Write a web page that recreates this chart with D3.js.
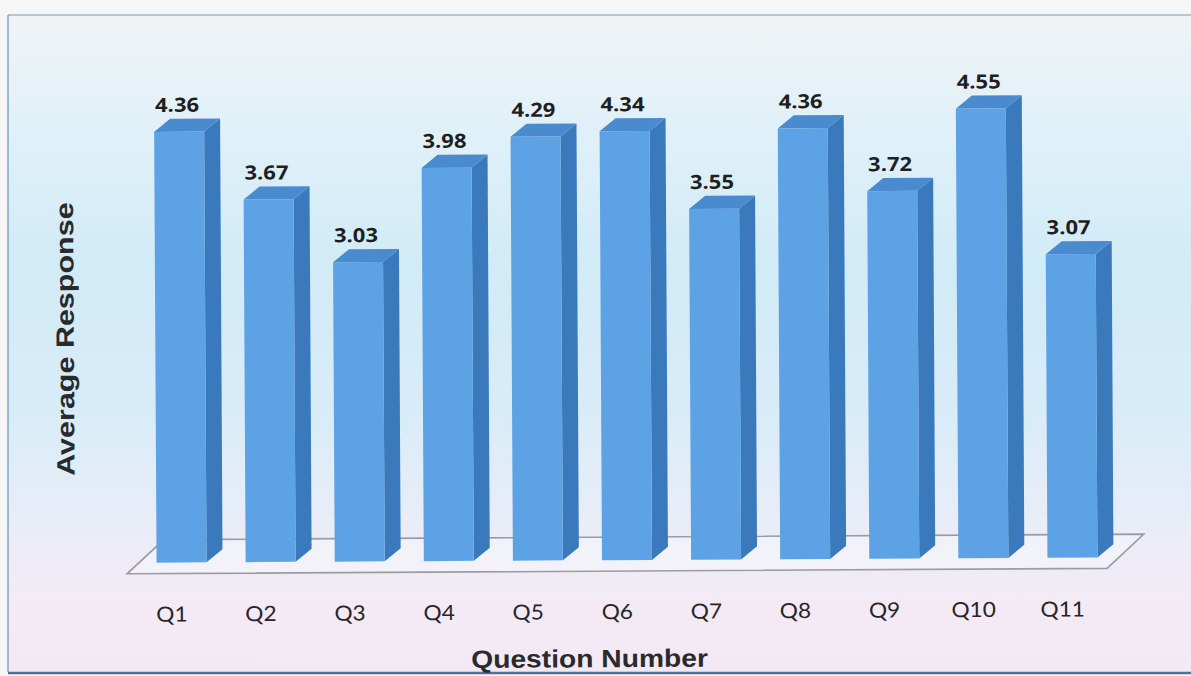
<!DOCTYPE html>
<html>
<head>
<meta charset="utf-8">
<script src="https://cdn.jsdelivr.net/npm/d3@7"></script>
<style>
  html, body { margin: 0; padding: 0; background: #f6f6f6; }
  svg { display: block; }
</style>
</head>
<body>
<div id="chart"></div>
<script>
const W = 1191;
const H = 676;

// data
const questions = ["Q1", "Q2", "Q3", "Q4", "Q5", "Q6", "Q7", "Q8", "Q9", "Q10", "Q11"];
const responses = [4.36, 3.67, 3.03, 3.98, 4.29, 4.34, 3.55, 4.36, 3.72, 4.55, 3.07];
const yDomain = [0, 5];

const xTitle = "Question Number";
const yTitle = "Average Response";

// 3d look
const floorDepth = [37, -34];   // floor back edge offset
const barShift = [10, -11];     // bar front sits a bit into the floor
const barDepth = [16, -13];     // bar depth offset
const barW = 50;

const svg = d3.select("#chart").append("svg").attr("width", W).attr("height", H);

const defs = svg.append("defs");
const bg = defs.append("linearGradient").attr("id", "bg").attr("x1", 0).attr("y1", 0).attr("x2", 0).attr("y2", 1);
[["0%", "#f0f3f5"], ["15%", "#e2f1f8"], ["38%", "#d1ebf7"], ["60%", "#d8ecf8"], ["78%", "#e9edf7"], ["90%", "#f4eaf5"], ["100%", "#f3e9f4"]]
  .forEach(s => bg.append("stop").attr("offset", s[0]).attr("stop-color", s[1]));

// frame
svg.append("rect").attr("x", 8).attr("y", 15).attr("width", W).attr("height", 657).attr("fill", "url(#bg)");
svg.append("line").attr("x1", 8).attr("x2", W).attr("y1", 15).attr("y2", 15).attr("stroke", "#9db6c9").attr("stroke-width", 1.5);
svg.append("line").attr("x1", 8).attr("x2", 8).attr("y1", 15).attr("y2", 672).attr("stroke", "#7ea6c6").attr("stroke-width", 1.5);
svg.append("line").attr("x1", 8).attr("x2", W).attr("y1", 673).attr("y2", 673).attr("stroke", "#4d7198").attr("stroke-width", 2.5);

// the scan is turned a touch
const g = svg.append("g").attr("transform", "rotate(-0.32, 630, 560)");

const x = d3.scaleBand().domain(questions).range([127, 1107]).padding(0);
const y = d3.scaleLinear().domain(yDomain).range([571 + barShift[1], 66]);

const floorY = 571;
const fx0 = x.range()[0], fx1 = x.range()[1];

// floor
g.append("path")
  .attr("d", `M${fx0},${floorY} L${fx1},${floorY} L${fx1 + floorDepth[0]},${floorY + floorDepth[1]} L${fx0 + floorDepth[0]},${floorY + floorDepth[1]} Z`)
  .attr("fill", "rgba(255,255,255,0.3)")
  .attr("stroke", "#9b9ba3")
  .attr("stroke-width", 1.6);

const data = questions.map((q, i) => ({ q, v: responses[i] }));

const bars = g.selectAll("g.bar").data(data).enter().append("g").attr("class", "bar");

const left = d => x(d.q) + x.bandwidth() / 2 + barShift[0] - barW / 2;
const right = d => left(d) + barW;
const bottom = y(0);
const dx = barDepth[0], dy = barDepth[1];

// side face
bars.append("path")
  .attr("d", d => `M${right(d)},${y(d.v)} L${right(d) + dx},${y(d.v) + dy} L${right(d) + dx},${bottom + dy} L${right(d)},${bottom} Z`)
  .attr("fill", "#3a79bc");

// top face
bars.append("path")
  .attr("d", d => `M${left(d)},${y(d.v)} L${left(d) + dx},${y(d.v) + dy} L${right(d) + dx},${y(d.v) + dy} L${right(d)},${y(d.v)} Z`)
  .attr("fill", "#4a8bd0");

// front face
bars.append("rect")
  .attr("x", d => left(d))
  .attr("y", d => y(d.v))
  .attr("width", barW)
  .attr("height", d => bottom - y(d.v))
  .attr("fill", "#5da2e4");

// value labels
bars.append("text")
  .attr("transform", d => `translate(${left(d) + barW / 2 - 2},${y(d.v) + dy - 7}) scale(1.13,1)`)
  .attr("text-anchor", "middle")
  .style("font-family", "'Open Sans', Lato, sans-serif")
  .style("font-weight", "bold")
  .style("font-size", "19.5px")
  .style("fill", "#1f1f1f")
  .text(d => d.v.toFixed(2));

// category labels
g.selectAll("text.cat").data(questions).enter().append("text")
  .attr("class", "cat")
  .attr("transform", d => `translate(${x(d) + x.bandwidth() / 2},${619}) scale(1.08,1)`)
  .attr("text-anchor", "middle")
  .style("font-family", "Lato, 'Open Sans', sans-serif")
  .style("font-size", "21px")
  .style("fill", "#262626")
  .text(d => d);

// axis titles
g.append("text")
  .attr("transform", "translate(589,667) scale(1.13,1)")
  .attr("text-anchor", "middle")
  .style("font-family", "'Liberation Sans', Arial, sans-serif")
  .style("font-weight", "bold")
  .style("font-size", "25px")
  .style("fill", "#2a2a2a")
  .text(xTitle);

g.append("text")
  .attr("transform", "translate(75,336) rotate(-90) scale(1.22,1)")
  .attr("text-anchor", "middle")
  .style("font-family", "'Liberation Sans', Arial, sans-serif")
  .style("font-weight", "bold")
  .style("font-size", "25px")
  .style("fill", "#2a2a2a")
  .text(yTitle);
</script>
</body>
</html>
